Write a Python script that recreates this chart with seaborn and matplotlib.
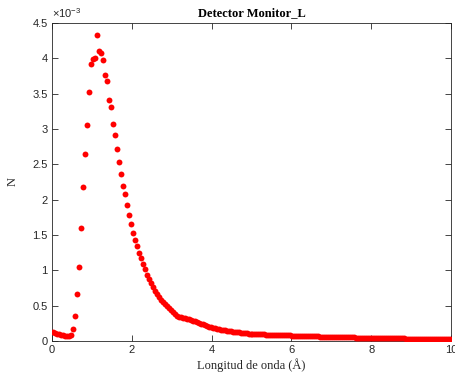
import numpy as np
import pandas as pd
import matplotlib
matplotlib.use("Agg")
import matplotlib.pyplot as plt
import seaborn as sns
from matplotlib.ticker import FuncFormatter

# Monitor counts (units of 1e-3), one value per 0.05 Å wavelength bin
n_0_to_1 = [0.127, 0.112, 0.100, 0.092, 0.086, 0.080, 0.076, 0.072, 0.070, 0.085,
            0.165, 0.35, 0.66, 1.05, 1.60, 2.18, 2.65, 3.06, 3.52, 3.92]
n_1_to_2 = [3.99, 4.00, 4.33, 4.10, 4.08, 3.97, 3.77, 3.68, 3.41, 3.31,
            3.07, 2.92, 2.72, 2.53, 2.37, 2.19, 2.08, 1.92, 1.78, 1.65]
n_2_to_3 = [1.53, 1.43, 1.34, 1.25, 1.17, 1.09, 1.02, 0.94, 0.88, 0.82,
            0.76, 0.71, 0.66, 0.62, 0.58, 0.55, 0.52, 0.49, 0.46, 0.44]
n_3_to_4 = [0.41, 0.385, 0.36, 0.345, 0.335, 0.33, 0.325, 0.318, 0.31, 0.30,
            0.29, 0.28, 0.265, 0.255, 0.245, 0.235, 0.225, 0.215, 0.205, 0.197]
n_4_to_5 = [0.188, 0.180, 0.173, 0.166, 0.160, 0.155, 0.150, 0.145, 0.141, 0.137,
            0.133, 0.129, 0.125, 0.121, 0.117, 0.114, 0.111, 0.108, 0.105, 0.102]
n_5_to_6 = [0.100, 0.098, 0.097, 0.096, 0.094, 0.093, 0.092, 0.091, 0.090, 0.089,
            0.088, 0.086, 0.085, 0.084, 0.083, 0.082, 0.081, 0.080, 0.079, 0.078]
n_6_to_7 = [0.077, 0.076, 0.075, 0.074, 0.073, 0.072, 0.071, 0.070, 0.069, 0.068,
            0.067, 0.066, 0.065, 0.064, 0.063, 0.062, 0.061, 0.060, 0.059, 0.058]
n_7_to_8 = [0.058, 0.057, 0.056, 0.055, 0.054, 0.054, 0.053, 0.052, 0.052, 0.051,
            0.050, 0.050, 0.049, 0.048, 0.048, 0.047, 0.047, 0.046, 0.046, 0.045]
n_8_to_9 = [0.045, 0.044, 0.043, 0.043, 0.042, 0.042, 0.041, 0.041, 0.040, 0.040,
            0.039, 0.039, 0.038, 0.038, 0.037, 0.037, 0.036, 0.035, 0.035, 0.034]
n_9_to_10 = [0.034, 0.033, 0.033, 0.032, 0.032, 0.031, 0.031, 0.030, 0.030, 0.029,
             0.029, 0.028, 0.028, 0.027, 0.027, 0.026, 0.026, 0.025, 0.025, 0.024]

counts_e3 = (n_0_to_1 + n_1_to_2 + n_2_to_3 + n_3_to_4 + n_4_to_5 +
             n_5_to_6 + n_6_to_7 + n_7_to_8 + n_8_to_9 + n_9_to_10)
bin_width = 0.05
wavelength = 0.025 + bin_width * np.arange(len(counts_e3))

x_ticks = [0, 2, 4, 6, 8, 10]
y_ticks_e3 = [0, 0.5, 1, 1.5, 2, 2.5, 3, 3.5, 4, 4.5]
y_scale = 1e-3

df = pd.DataFrame({"wavelength": wavelength, "N": np.array(counts_e3) * y_scale})

sns.set_style("ticks")
plt.rcParams["font.family"] = ["Liberation Sans", "DejaVu Sans"]
plt.rcParams["mathtext.fontset"] = "custom"
plt.rcParams["mathtext.rm"] = "Liberation Sans"
axis_color = "#262626"

fig = plt.figure(figsize=(4.56, 3.81), dpi=100)
ax = fig.add_axes([52 / 456, 1 - 341 / 381, (451 - 52) / 456, (341 - 23) / 381])

sns.scatterplot(data=df, x="wavelength", y="N", ax=ax, color="#ff0000",
                s=18, linewidth=0, legend=False, zorder=3)

ax.set_xlim(0, 10)
ax.set_ylim(0, 4.5 * y_scale)
ax.set_xticks(x_ticks)
ax.set_yticks(np.array(y_ticks_e3) * y_scale)
ax.yaxis.set_major_formatter(FuncFormatter(lambda v, _: f"{v / y_scale:g}"))

# exponent multiplier shown above the y axis
ax.text(0.0, 1.008, r"$\times\mathregular{10^{-3}}$", transform=ax.transAxes,
        ha="left", va="bottom", fontsize=8, color=axis_color)

for side in ["top", "right", "bottom", "left"]:
    ax.spines[side].set_visible(True)
    ax.spines[side].set_color(axis_color)
    ax.spines[side].set_linewidth(0.6)
ax.tick_params(direction="in", length=4, width=0.6, colors=axis_color,
               labelsize=8, top=True, right=True, pad=3)

ax.set_title("Detector Monitor_L", family="Liberation Serif", fontweight="bold",
             fontsize=9, color="black", pad=5)
ax.set_xlabel("Longitud de onda (Å)", family="Liberation Serif", fontsize=9,
              color=axis_color, labelpad=2)
ax.set_ylabel("N", family="Liberation Serif", fontsize=9, color=axis_color,
              labelpad=10)

fig.savefig("out.png", dpi=100, facecolor="white")
